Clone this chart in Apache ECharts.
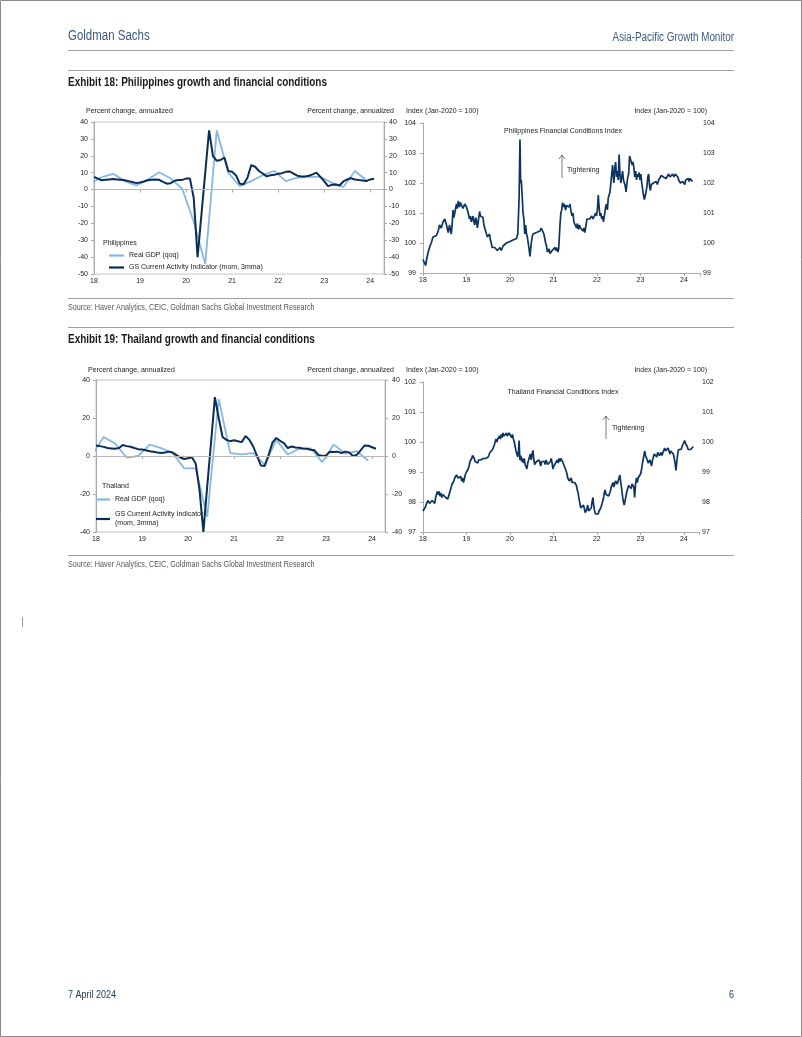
<!DOCTYPE html>
<html><head><meta charset="utf-8">
<script src="https://cdn.jsdelivr.net/npm/echarts@6/dist/echarts.min.js"></script>
<style>html,body{margin:0;padding:0;background:#fff}#c{width:802px;height:1037px}</style>
</head><body><div id="c"></div>
<script>
// ---------- DATA ----------
const yearTickLabels = { 2018: '18', 2019: '19', 2020: '20', 2021: '21', 2022: '22', 2023: '23', 2024: '24' };
const seriesNames = ['Real GDP (qoq)', 'GS Current Activity Indicator (mom, 3mma)'];

// Quarterly real GDP (qoq, annualized), Q4 2017 .. Q4 2023, plotted at quarter-end month
const gdpStartYear = 2017 + 11 / 12;
const phGdp = [3.5, 7.4, 9.3, 5, 2.4, 6, 10.2, 6.5, 0.5, -19, -44, 35, 10, 2, 5, 8.5, 11, 5, 7, 7.5, 7.5, 4, 1.5, 11, 5.5];
const thGdp = [0.5, 10, 6.5, -0.8, 0, 6, 4.2, 1.5, -6.5, -6.5, -32, 30, 1.5, 0.8, 1.5, -4.5, 8.5, 0.8, 3.8, 4, -3.2, 6, 1.2, 2.5, -2.5];

// Monthly GS CAI (mom, 3mma), Jan 2018 .. Feb 2024
const caiStartYear = 2018;
const phCai = [7.5, 6.5, 5.5, 5.8, 6, 6.2, 6, 5.8, 5.5, 5, 4.5, 3.8,
  4.2, 4.8, 5.5, 5.8, 6, 5.8, 4.6, 3.5, 3.8, 5.2, 5.6, 5.7,
  6.5, 6.6, -5, -40, -15, 10, 35, 20, 17, 17.5, 19, 11,
  10.5, 8.5, 3.5, 3.2, 7, 14.5, 13.5, 11, 9.5, 7.8, 8.5, 8.7,
  9.3, 9.7, 10.5, 10.7, 9.5, 8.2, 7.8, 7.8, 8.2, 9, 10, 7.5,
  5, 2, 2.8, 3, 2.4, 4.8, 6, 6.7, 6, 5.6, 5.4, 5,
  6, 6.4];
const thCai = [5.5, 5.2, 4.8, 4.2, 4, 3.8, 4.2, 5.8, 5.2, 4.9, 4.2, 3.6,
  3.4, 3, 2.5, 2.2, 1.8, 1.6, 1.8, 2.3, 1.8, 0.5, -0.8, -1.6,
  -1.2, -0.7, -4, -18, -40, -16, 7, 31, 20, 10, 8.5, 7.8,
  8.3, 7.8, 7.3, 10.5, 8.5, 5, 0, -5, -5.2, 0.5, 7, 9.5,
  8, 6.8, 4.2, 5, 4.5, 4.3, 4, 3.8, 3.3, 3, 0.5, 0,
  0.3, 2.3, 2.1, 2.3, 1.5, 2.3, 1.9, 0, 0.6, 3, 5.5, 5.4,
  4.6, 3.8];

// Financial conditions indices [decimal year, index]
const phFci = [[2018.00,99.45],[2018.03,99.35],[2018.06,99.25],[2018.09,99.5],[2018.12,99.7],[2018.16,99.9],[2018.19,100.0],[2018.23,100.2],[2018.27,100.15],[2018.31,100.25],[2018.35,100.4],[2018.38,100.6],[2018.42,100.5],[2018.46,100.7],[2018.5,100.8],[2018.52,100.7],[2018.54,100.6],[2018.58,100.35],[2018.61,100.6],[2018.65,100.3],[2018.67,100.6],[2018.69,101.1],[2018.71,100.85],[2018.73,100.9],[2018.77,101.3],[2018.79,101.15],[2018.81,101.4],[2018.84,101.2],[2018.86,101.35],[2018.88,101.3],[2018.92,101.15],[2018.96,101.3],[2019.0,101.2],[2019.02,101.25],[2019.04,101.0],[2019.07,100.8],[2019.09,100.9],[2019.11,100.7],[2019.15,100.9],[2019.17,100.7],[2019.19,100.6],[2019.21,100.85],[2019.23,100.75],[2019.25,100.5],[2019.27,100.7],[2019.3,101.05],[2019.32,100.9],[2019.34,100.95],[2019.38,100.85],[2019.4,100.6],[2019.42,100.5],[2019.46,100.3],[2019.48,100.2],[2019.5,100.25],[2019.53,100.3],[2019.55,100.1],[2019.57,100.0],[2019.59,99.85],[2019.61,99.9],[2019.65,99.85],[2019.69,99.9],[2019.71,99.75],[2019.73,99.8],[2019.77,99.85],[2019.8,99.75],[2019.84,99.9],[2019.88,99.95],[2019.92,100.0],[2019.96,99.95],[2020.0,100.05],[2020.03,100.1],[2020.07,100.1],[2020.11,100.05],[2020.15,100.15],[2020.18,100.3],[2020.21,101.5],[2020.23,103.45],[2020.245,102.0],[2020.26,102.1],[2020.28,101.6],[2020.3,101.0],[2020.32,100.8],[2020.34,100.3],[2020.36,100.6],[2020.38,100.3],[2020.4,100.2],[2020.43,99.9],[2020.46,99.55],[2020.49,100.0],[2020.51,100.2],[2020.53,100.3],[2020.57,100.3],[2020.61,100.35],[2020.65,100.4],[2020.69,100.4],[2020.72,100.5],[2020.76,100.45],[2020.78,100.3],[2020.8,100.25],[2020.82,100.0],[2020.84,99.9],[2020.86,99.7],[2020.88,99.65],[2020.9,99.8],[2020.92,99.65],[2020.95,99.6],[2020.97,99.75],[2020.99,99.8],[2021.01,99.7],[2021.03,99.85],[2021.05,99.75],[2021.07,99.85],[2021.1,99.7],[2021.12,99.8],[2021.15,100.6],[2021.17,101.0],[2021.19,101.1],[2021.21,101.35],[2021.22,101.2],[2021.25,101.3],[2021.28,101.1],[2021.3,101.25],[2021.33,101.3],[2021.36,101.2],[2021.38,101.3],[2021.41,101.0],[2021.43,100.9],[2021.45,101.0],[2021.47,100.7],[2021.5,100.6],[2021.53,100.5],[2021.55,100.65],[2021.57,100.45],[2021.6,100.6],[2021.62,100.5],[2021.65,100.55],[2021.68,100.4],[2021.7,100.5],[2021.72,100.35],[2021.75,100.6],[2021.77,100.8],[2021.8,100.75],[2021.83,100.8],[2021.86,100.75],[2021.88,100.9],[2021.91,100.8],[2021.94,100.85],[2021.97,101.0],[2021.99,100.9],[2022.01,101.1],[2022.03,101.6],[2022.05,101.2],[2022.07,100.9],[2022.09,101.0],[2022.11,100.8],[2022.13,100.9],[2022.15,100.7],[2022.17,100.9],[2022.2,101.2],[2022.22,101.3],[2022.24,101.1],[2022.26,101.5],[2022.28,101.6],[2022.3,101.7],[2022.32,102.0],[2022.34,102.3],[2022.36,102.6],[2022.37,102.3],[2022.39,102.0],[2022.41,102.5],[2022.43,102.7],[2022.45,102.2],[2022.47,102.4],[2022.49,102.1],[2022.51,102.95],[2022.53,102.3],[2022.55,102.0],[2022.57,102.2],[2022.59,102.4],[2022.61,102.1],[2022.63,102.0],[2022.65,101.9],[2022.67,101.7],[2022.69,102.0],[2022.71,102.2],[2022.73,102.3],[2022.75,102.9],[2022.77,102.8],[2022.79,102.85],[2022.81,102.6],[2022.83,102.7],[2022.85,102.5],[2022.87,102.2],[2022.89,102.4],[2022.91,102.1],[2022.93,102.3],[2022.95,102.2],[2022.97,102.35],[2022.99,102.1],[2023.01,102.3],[2023.03,102.0],[2023.05,101.8],[2023.07,101.6],[2023.09,101.45],[2023.11,101.5],[2023.13,101.7],[2023.15,101.9],[2023.17,102.2],[2023.19,102.3],[2023.21,101.9],[2023.23,101.75],[2023.25,101.95],[2023.28,101.9],[2023.3,102.0],[2023.33,101.95],[2023.36,102.05],[2023.39,101.95],[2023.42,102.1],[2023.45,102.15],[2023.48,102.25],[2023.5,102.3],[2023.53,102.2],[2023.56,102.25],[2023.59,102.15],[2023.62,102.2],[2023.65,102.3],[2023.68,102.2],[2023.71,102.25],[2023.74,102.3],[2023.77,102.2],[2023.8,102.3],[2023.83,102.25],[2023.86,102.2],[2023.88,102.1],[2023.9,102.15],[2023.92,102.0],[2023.95,101.95],[2023.97,102.05],[2024.0,102.0],[2024.02,101.95],[2024.04,102.1],[2024.07,102.1],[2024.1,102.15],[2024.12,102.05],[2024.14,102.15],[2024.17,102.1],[2024.2,102.05]];

const thFci = [[2018.0,97.7],[2018.03,97.75],[2018.06,97.85],[2018.08,97.95],[2018.1,97.9],[2018.12,98.05],[2018.15,97.95],[2018.17,98.0],[2018.19,97.95],[2018.21,98.05],[2018.23,98.0],[2018.25,98.1],[2018.27,97.95],[2018.29,98.15],[2018.31,98.2],[2018.33,98.35],[2018.35,98.25],[2018.37,98.35],[2018.39,98.2],[2018.41,98.3],[2018.43,98.15],[2018.46,98.25],[2018.48,98.2],[2018.5,98.25],[2018.52,98.15],[2018.54,98.2],[2018.57,98.1],[2018.59,98.2],[2018.61,98.25],[2018.63,98.4],[2018.65,98.45],[2018.67,98.6],[2018.69,98.65],[2018.71,98.7],[2018.73,98.8],[2018.75,98.75],[2018.77,98.9],[2018.79,98.95],[2018.81,98.8],[2018.83,98.85],[2018.85,98.75],[2018.87,98.85],[2018.89,98.7],[2018.91,98.8],[2018.93,98.65],[2018.95,98.75],[2018.97,98.9],[2019.0,99.0],[2019.02,98.95],[2019.04,99.1],[2019.06,99.2],[2019.08,99.35],[2019.1,99.3],[2019.12,99.45],[2019.14,99.55],[2019.16,99.6],[2019.18,99.45],[2019.2,99.35],[2019.22,99.3],[2019.24,99.35],[2019.26,99.3],[2019.28,99.4],[2019.3,99.35],[2019.33,99.4],[2019.36,99.35],[2019.38,99.45],[2019.4,99.4],[2019.42,99.5],[2019.44,99.45],[2019.46,99.5],[2019.48,99.4],[2019.5,99.5],[2019.52,99.55],[2019.54,99.65],[2019.56,99.7],[2019.58,99.6],[2019.6,99.75],[2019.62,99.8],[2019.64,99.9],[2019.66,99.85],[2019.68,100.1],[2019.7,100.0],[2019.72,100.1],[2019.74,100.05],[2019.76,100.2],[2019.78,100.1],[2019.8,100.25],[2019.82,100.15],[2019.84,100.3],[2019.86,100.2],[2019.88,100.25],[2019.9,100.2],[2019.92,100.3],[2019.94,100.2],[2019.96,100.25],[2019.98,100.3],[2020.0,100.25],[2020.02,100.3],[2020.04,100.15],[2020.06,100.25],[2020.08,100.1],[2020.1,100.0],[2020.12,99.85],[2020.14,99.7],[2020.16,99.6],[2020.18,99.5],[2020.2,99.75],[2020.21,100.05],[2020.23,99.4],[2020.25,99.55],[2020.27,99.35],[2020.29,99.45],[2020.31,99.3],[2020.33,99.45],[2020.35,99.25],[2020.37,99.3],[2020.39,99.1],[2020.41,99.3],[2020.43,99.4],[2020.45,99.5],[2020.47,99.6],[2020.49,99.4],[2020.51,99.6],[2020.53,99.72],[2020.55,99.4],[2020.57,99.25],[2020.59,99.2],[2020.61,99.35],[2020.63,99.4],[2020.65,99.3],[2020.67,99.4],[2020.69,99.3],[2020.71,99.2],[2020.73,99.35],[2020.75,99.4],[2020.77,99.3],[2020.79,99.35],[2020.81,99.25],[2020.83,99.4],[2020.85,99.35],[2020.87,99.25],[2020.89,99.3],[2020.91,99.2],[2020.93,99.35],[2020.95,99.45],[2020.97,99.3],[2020.99,99.1],[2021.01,99.2],[2021.03,99.25],[2021.05,99.3],[2021.07,99.35],[2021.09,99.4],[2021.11,99.3],[2021.13,99.45],[2021.15,99.35],[2021.17,99.45],[2021.19,99.5],[2021.21,99.35],[2021.23,99.3],[2021.25,99.2],[2021.27,99.15],[2021.29,99.05],[2021.31,98.95],[2021.33,98.8],[2021.35,98.85],[2021.37,98.7],[2021.39,98.75],[2021.41,98.8],[2021.43,98.65],[2021.45,98.6],[2021.47,98.7],[2021.49,98.65],[2021.51,98.6],[2021.53,98.55],[2021.55,98.4],[2021.57,98.3],[2021.59,98.1],[2021.61,97.95],[2021.63,97.8],[2021.65,97.85],[2021.67,97.75],[2021.69,97.9],[2021.71,97.8],[2021.73,97.65],[2021.75,97.6],[2021.77,97.75],[2021.79,97.9],[2021.81,97.7],[2021.83,97.65],[2021.85,97.75],[2021.87,97.8],[2021.89,98.0],[2021.91,98.15],[2021.93,97.85],[2021.95,97.7],[2021.97,97.6],[2021.99,97.55],[2022.01,97.65],[2022.03,97.6],[2022.05,97.7],[2022.07,97.65],[2022.09,97.8],[2022.11,97.9],[2022.13,98.0],[2022.15,98.1],[2022.17,98.3],[2022.19,98.4],[2022.21,98.25],[2022.23,98.2],[2022.25,98.3],[2022.27,98.2],[2022.29,98.25],[2022.31,98.35],[2022.33,98.5],[2022.35,98.55],[2022.37,98.65],[2022.39,98.5],[2022.41,98.55],[2022.43,98.7],[2022.45,98.75],[2022.47,98.6],[2022.49,98.65],[2022.51,98.8],[2022.53,98.9],[2022.55,98.65],[2022.57,98.45],[2022.59,98.2],[2022.61,98.0],[2022.63,97.9],[2022.65,98.05],[2022.67,98.2],[2022.69,98.35],[2022.71,98.4],[2022.73,98.55],[2022.75,98.5],[2022.77,98.6],[2022.79,98.45],[2022.81,98.6],[2022.83,98.55],[2022.85,98.5],[2022.87,98.15],[2022.89,98.6],[2022.91,98.8],[2022.93,98.65],[2022.95,98.8],[2022.97,98.85],[2022.99,98.75],[2023.01,98.95],[2023.03,99.1],[2023.05,99.3],[2023.07,99.45],[2023.09,99.6],[2023.1,99.7],[2023.12,99.55],[2023.14,99.5],[2023.16,99.4],[2023.18,99.3],[2023.2,99.35],[2023.22,99.4],[2023.24,99.3],[2023.26,99.2],[2023.28,99.4],[2023.3,99.5],[2023.32,99.6],[2023.34,99.55],[2023.36,99.6],[2023.38,99.5],[2023.4,99.65],[2023.42,99.7],[2023.44,99.55],[2023.46,99.6],[2023.48,99.65],[2023.5,99.55],[2023.52,99.65],[2023.54,99.7],[2023.56,99.8],[2023.58,99.7],[2023.6,99.75],[2023.62,99.65],[2023.64,99.8],[2023.66,99.7],[2023.68,99.6],[2023.7,99.7],[2023.72,99.75],[2023.74,99.65],[2023.76,99.6],[2023.78,99.45],[2023.8,99.3],[2023.82,99.05],[2023.84,99.35],[2023.86,99.6],[2023.88,99.75],[2023.9,99.8],[2023.92,99.7],[2023.94,99.75],[2023.96,99.85],[2023.98,99.8],[2024.0,99.9],[2024.02,100.05],[2024.04,99.95],[2024.06,99.9],[2024.08,99.85],[2024.1,99.75],[2024.12,99.8],[2024.14,99.7],[2024.16,99.75],[2024.18,99.7],[2024.2,99.8],[2024.22,99.85]];

// ---------- BUILD ----------
const F = "'Liberation Sans', Arial, Helvetica, sans-serif";
const LIGHT = '#86b8e3', DARK = '#0b2d55', FCI = '#0d3461', AX = '#a8a8a8', TXT = '#222';
const NARROW_SCALE = 0.82;

const monthly = (arr, start) => arr.map((v, i) => [start + i / 12, v]);
const quarterly = (arr, start) => arr.map((v, i) => [start + i * 0.25, v]);

function xAxis(gridIndex, max) {
  return {
    type: 'value', gridIndex, min: 2018, max, interval: 1,
    axisLine: { show: true, lineStyle: { color: AX, width: 1 } },
    axisTick: { show: true, length: 3, lineStyle: { color: AX } },
    splitLine: { show: false },
    axisLabel: { fontSize: 7, fontFamily: F, color: TXT, margin: 4,
      formatter: v => yearTickLabels[Math.round(v * 1000) / 1000] || '' }
  };
}
function yAxis(gridIndex, position, min, max, interval, margin, showLine) {
  return {
    type: 'value', gridIndex, position, min, max, interval,
    axisLine: { show: showLine, lineStyle: { color: AX, width: 1 } },
    axisTick: { show: showLine, length: 3, lineStyle: { color: AX } },
    splitLine: { show: false },
    axisLabel: { fontSize: 7, fontFamily: F, color: TXT, margin }
  };
}
const zeroLine = { silent: true, symbol: ['none', 'none'], label: { show: false },
  lineStyle: { color: '#b8b8b8', width: 1.2, type: 'solid' }, emphasis: { disabled: true }, data: [{ yAxis: 0 }] };

function txt(x, y, text, font, fill, align, scaleX) {
  return { type: 'text', x, y, scaleX: scaleX || 1, silent: true, z: 10,
    style: { text, font, fill: fill || TXT, align: align || 'left', verticalAlign: 'middle',
      textAlign: align || 'left', textVerticalAlign: 'middle' } };
}
function hline(x1, x2, y, color, w) {
  return { type: 'line', silent: true, shape: { x1, y1: y, x2, y2: y }, style: { stroke: color || '#a0a0a0', lineWidth: w || 1 } };
}
function arrow(x, yTop, yBot) {
  return [
    { type: 'line', silent: true, shape: { x1: x, y1: yBot, x2: x, y2: yTop }, style: { stroke: '#555', lineWidth: 0.8 } },
    { type: 'polyline', silent: true, shape: { points: [[x - 3, yTop + 4], [x, yTop], [x + 3, yTop + 4]] }, style: { stroke: '#555', fill: null, lineWidth: 0.8 } }
  ];
}
const f7 = '7px ' + F;
const legendText = { fontSize: 7, fontFamily: F, color: TXT, lineHeight: 9 };

const option = {
  animation: false,
  backgroundColor: '#fff',
  grid: [
    { left: 94, top: 122, width: 290, height: 152, show: true, borderColor: '#c4c4c4', borderWidth: 1 },
    { left: 423, top: 123, width: 277, height: 150 },
    { left: 96, top: 380, width: 289, height: 152, show: true, borderColor: '#c4c4c4', borderWidth: 1 },
    { left: 423, top: 382, width: 276, height: 150 }
  ],
  xAxis: [xAxis(0, 2024.3), xAxis(1, 2024.37), xAxis(2, 2024.28), xAxis(3, 2024.35)],
  yAxis: [
    yAxis(0, 'left', -50, 40, 10, 6, true), yAxis(0, 'right', -50, 40, 10, 5, true),
    yAxis(1, 'left', 99, 104, 1, 7, true), yAxis(1, 'right', 99, 104, 1, 3, false),
    yAxis(2, 'left', -40, 40, 20, 6, true), yAxis(2, 'right', -40, 40, 20, 7, true),
    yAxis(3, 'left', 97, 102, 1, 7, true), yAxis(3, 'right', 97, 102, 1, 3, false)
  ],
  legend: [
    { data: seriesNames, orient: 'vertical', left: 109, top: 251, padding: 0, icon: 'rect', itemWidth: 15, itemHeight: 2.2, itemGap: 3,
      textStyle: legendText },
    { data: seriesNames, orient: 'vertical', left: 96, top: 495, padding: 0, icon: 'rect', itemWidth: 14, itemHeight: 2.2, itemGap: 6,
      textStyle: legendText,
      formatter: n => n === seriesNames[1] ? 'GS Current Activity Indicator\n(mom, 3mma)' : n }
  ],
  series: [
    { name: seriesNames[0], type: 'line', xAxisIndex: 0, yAxisIndex: 0, data: quarterly(phGdp, gdpStartYear),
      symbol: 'none', lineStyle: { color: LIGHT, width: 1.8 }, itemStyle: { color: LIGHT }, z: 2, markLine: zeroLine },
    { name: seriesNames[1], type: 'line', xAxisIndex: 0, yAxisIndex: 0, data: monthly(phCai, caiStartYear),
      symbol: 'none', lineStyle: { color: DARK, width: 2 }, itemStyle: { color: DARK }, z: 3 },
    { name: 'Philippines Financial Conditions Index', type: 'line', xAxisIndex: 1, yAxisIndex: 2, data: phFci,
      symbol: 'none', lineStyle: { color: FCI, width: 1.7 }, itemStyle: { color: FCI } },
    { name: seriesNames[0], type: 'line', xAxisIndex: 2, yAxisIndex: 4, data: quarterly(thGdp, gdpStartYear),
      symbol: 'none', lineStyle: { color: LIGHT, width: 1.8 }, itemStyle: { color: LIGHT }, z: 2, markLine: zeroLine },
    { name: seriesNames[1], type: 'line', xAxisIndex: 2, yAxisIndex: 4, data: monthly(thCai, caiStartYear),
      symbol: 'none', lineStyle: { color: DARK, width: 2 }, itemStyle: { color: DARK }, z: 3 },
    { name: 'Thailand Financial Conditions Index', type: 'line', xAxisIndex: 3, yAxisIndex: 6, data: thFci,
      symbol: 'none', lineStyle: { color: FCI, width: 1.7 }, itemStyle: { color: FCI } }
  ],
  graphic: [
    { type: 'rect', silent: true, shape: { x: 0.5, y: 0.5, width: 801, height: 1036 }, style: { fill: null, stroke: '#8a8a8a', lineWidth: 1 } },
    txt(68, 36, 'Goldman Sachs', '14px ' + F, '#3d5a80', 'left', NARROW_SCALE),
    txt(734, 38, 'Asia-Pacific Growth Monitor', '12px ' + F, '#3d5a80', 'right', NARROW_SCALE),
    hline(68, 734, 50.5, '#a0a0a0', 1.2),
    hline(68, 734, 70.5, '#a0a0a0', 1.2),
    txt(68, 83, 'Exhibit 18: Philippines growth and financial conditions', 'bold 12px ' + F, '#1a1a1a', 'left', 0.83),
    hline(68, 734, 298.5, '#a0a0a0', 1.2),
    txt(68, 308, 'Source: Haver Analytics, CEIC, Goldman Sachs Global Investment Research', '8.8px ' + F, '#555', 'left', NARROW_SCALE),
    hline(68, 734, 327.5, '#a0a0a0', 1.2),
    txt(68, 340, 'Exhibit 19: Thailand growth and financial conditions', 'bold 12px ' + F, '#1a1a1a', 'left', 0.83),
    hline(68, 734, 555.5, '#a0a0a0', 1.2),
    txt(68, 565, 'Source: Haver Analytics, CEIC, Goldman Sachs Global Investment Research', '8.8px ' + F, '#555', 'left', NARROW_SCALE),
    { type: 'line', silent: true, shape: { x1: 22.5, y1: 617, x2: 22.5, y2: 627 }, style: { stroke: '#9a9a9a', lineWidth: 1 } },
    txt(68, 995, '7 April 2024', '11px ' + F, '#1f3550', 'left', NARROW_SCALE),
    txt(734, 995, '6', '11px ' + F, '#1f3550', 'right', NARROW_SCALE),
    // chart 1
    txt(86, 111, 'Percent change, annualized', f7),
    txt(394, 111, 'Percent change, annualized', f7, TXT, 'right'),
    txt(103, 243, 'Philippines', f7),
    // chart 2
    txt(406, 111, 'Index (Jan-2020 = 100)', f7),
    txt(707, 111, 'Index (Jan-2020 = 100)', f7, TXT, 'right'),
    txt(563, 131, 'Philippines Financial Conditions Index', f7, TXT, 'center'),
    ...arrow(562, 155, 178),
    txt(567, 170, 'Tightening', f7),
    // chart 3
    txt(88, 370, 'Percent change, annualized', f7),
    txt(394, 370, 'Percent change, annualized', f7, TXT, 'right'),
    txt(102, 486, 'Thailand', f7),
    // chart 4
    txt(406, 370, 'Index (Jan-2020 = 100)', f7),
    txt(707, 370, 'Index (Jan-2020 = 100)', f7, TXT, 'right'),
    txt(563, 392, 'Thailand Financial Conditions Index', f7, TXT, 'center'),
    ...arrow(606, 416, 439),
    txt(612, 428, 'Tightening', f7)
  ]
};

const chart = echarts.init(document.getElementById('c'), null, { renderer: 'canvas', width: 802, height: 1037 });
chart.setOption(option);
</script>
</body></html>
